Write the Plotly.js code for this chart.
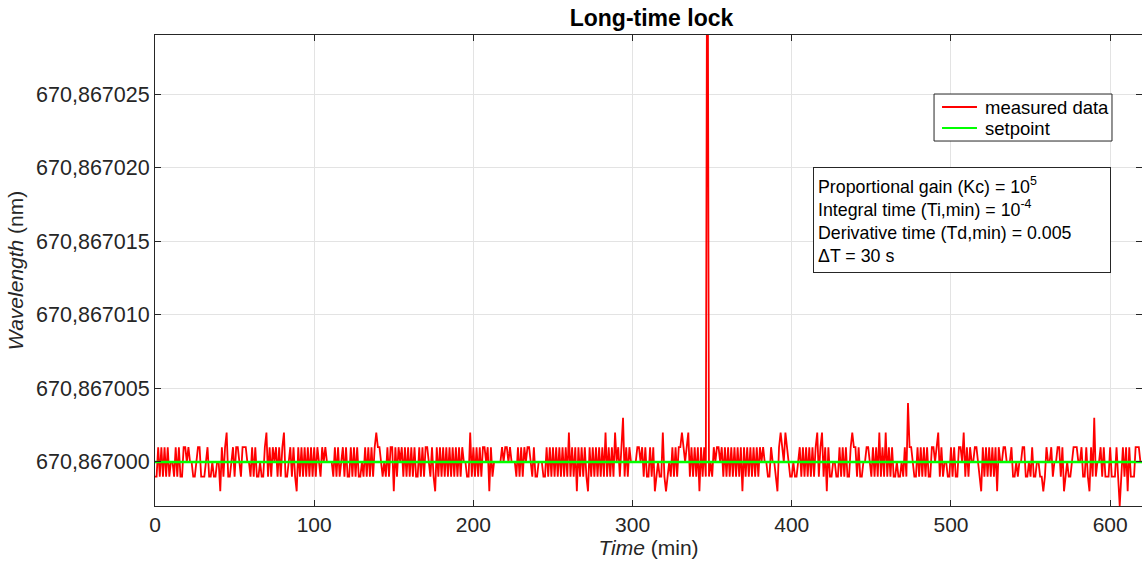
<!DOCTYPE html>
<html>
<head>
<meta charset="utf-8">
<script src="https://cdn.plot.ly/plotly-3.0.1.min.js"></script>
<style>
  html, body { margin: 0; padding: 0; background: #ffffff; }
  #chart { width: 1142px; height: 562px; }
</style>
</head>
<body>
<div id="chart"></div>
<script>
// Wavelength lock log: deviation from the setpoint, in units of 1e-6 nm,
// one reading per minute of elapsed time.
const setpointNm = 670.867000;
const deviationUnitNm = 1e-6;

const dev000to099 = [
  -1,-1,1,-1,1,-1,1,-1,1,-1,  0,0,-1,1,-1,1,-1,-1,1,1,
  0,1,0,0,-1,-1,0,1,1,-1,     -1,-1,0,1,-1,-1,0,-1,-1,0,
  0,-2,1,-1,1,2,-1,-1,0,1,    -1,1,1,0,-1,1,1,1,0,0,
  -1,1,-1,1,-1,-1,0,-1,-1,1,  2,-1,1,-1,1,0,1,-1,1,-1,
  1,2,-1,-1,0,1,-1,1,-1,-2,   1,-1,1,-1,1,-1,1,-1,1,-1
];
const dev100to199 = [
  1,-1,1,0,-1,1,0,1,0,0,      0,0,-1,1,-1,1,-1,0,1,-1,
  1,-1,-1,1,-1,1,-1,1,-1,-1,  0,-1,1,-1,1,-1,1,-1,1,2,
  1,1,0,-1,0,-1,1,-1,1,1,     -2,1,-1,1,0,1,-1,1,-1,1,
  -1,1,-1,1,-1,-1,1,-1,1,-1,  1,1,0,-1,1,-1,-2,1,-1,1,
  -1,1,-1,1,-1,1,-1,1,-1,1,   -1,1,-1,1,0,0,-1,-1,2,-1
];
const dev200to299 = [
  1,-1,1,-1,1,-1,1,1,0,1,     -2,1,-1,0,0,0,0,0,1,0,
  1,1,0,1,0,0,0,-1,1,-1,      1,-1,1,0,1,1,0,-1,1,-1,
  -1,0,0,0,-1,-1,1,-1,1,-1,   1,-1,1,-1,1,-1,1,-1,1,-1,
  2,-1,1,-1,1,-2,1,-1,1,-1,   1,-1,-2,1,-1,1,-1,1,-1,1,
  -1,1,-1,2,-1,1,-1,1,-1,2,   0,1,-1,1,3,-1,1,-1,1,0
];
const dev300to399 = [
  0,0,0,1,1,0,1,-1,1,-1,      -1,1,-1,1,-2,-1,0,-1,-1,2,
  -1,-2,-1,0,-1,1,-1,1,-1,1,  1,2,1,0,1,2,-1,1,-1,1,
  -1,1,-2,1,-1,1,-1,45,-1,0,  -1,1,0,1,1,0,1,-1,1,-1,
  1,-1,1,-1,1,-1,1,-1,1,-2,   1,-1,1,-1,1,-1,1,-1,1,-1,
  1,0,1,0,0,-1,-1,1,0,0,      -1,-2,1,2,1,0,2,1,0,-1
];
const dev400to499 = [
  -1,0,-1,-1,0,1,-1,1,-1,1,   -1,1,-1,1,-1,1,2,-1,1,2,
  -1,1,-2,1,-1,-1,0,0,-1,-1,  1,-1,1,-1,1,-1,-1,1,2,1,
  1,-1,1,-1,-1,0,0,1,1,0,     -1,1,-1,1,-1,2,-1,1,-1,2,
  -1,1,-1,1,-1,-1,0,-1,-1,0,  -1,1,-1,4,1,1,0,-1,-1,1,
  -1,1,-1,1,-1,1,-1,-1,1,1,   0,1,2,-1,1,-1,0,0,-1,-1
];
const dev500to620 = [
  1,-1,1,-1,-1,1,1,0,2,-1,    1,-1,1,0,0,1,1,0,-1,-2,
  1,-1,1,-1,1,-1,1,-1,1,-2,   1,0,0,1,1,0,0,0,1,-1,
  -1,0,-1,0,0,1,1,-1,-1,0,    -1,1,-1,-1,0,0,-1,-1,-2,-1,
  1,0,0,1,-1,0,0,1,1,-1,      1,-2,-1,0,-1,-1,0,1,1,1,
  0,0,1,-1,-1,1,-1,-2,1,-1,   3,-1,0,0,1,-1,1,-1,-1,-1,
  1,-1,-1,-1,1,-1,-3,-1,1,-1, 1,-2,1,-1,-1,-1,1,1,1,0,0
];

const samplePeriodMin = 1;
const setpointSpanMin = [0, 620];
const yTickOffsets = [0, 5, 10, 15, 20, 25];
const xTickVals = [0, 100, 200, 300, 400, 500, 600];
const seriesNames = ['measured data', 'setpoint'];
const seriesColors = ['#ff0000', '#00ff00'];

const deviations = [].concat(dev000to099, dev100to199, dev200to299,
                             dev300to399, dev400to499, dev500to620);
const timeMin = deviations.map((_, i) => i * samplePeriodMin);
const wavelengthNm = deviations.map(d => setpointNm + d * deviationUnitNm);

const FONT = '"Liberation Sans", Arial, Helvetica, sans-serif';
const AXIS_COLOR = '#262626';
const GRID_COLOR = '#e3e3e3';

const traces = [
  {
    x: timeMin,
    y: wavelengthNm,
    type: 'scatter',
    mode: 'lines',
    name: seriesNames[0],
    line: { color: seriesColors[0], width: 1.8 }
  },
  {
    x: setpointSpanMin,
    y: setpointSpanMin.map(() => setpointNm),
    type: 'scatter',
    mode: 'lines',
    name: seriesNames[1],
    line: { color: seriesColors[1], width: 2.5 }
  }
];

// Compact boxed legend in the upper right of the axes (paper coordinates).
const legendBox = { x0: 0.7893, x1: 0.9696, y0: 0.7749, y1: 0.8747 };
const legendRowsY = [0.8471, 0.8025];
const legendSample = { x0: 0.7974, x1: 0.8328, textX: 0.8389 };

const legendShapes = [
  {
    type: 'rect', xref: 'paper', yref: 'paper',
    x0: legendBox.x0, x1: legendBox.x1, y0: legendBox.y0, y1: legendBox.y1,
    line: { color: AXIS_COLOR, width: 1 }, fillcolor: '#ffffff', layer: 'above'
  }
].concat(seriesNames.map((_, i) => ({
  type: 'line', xref: 'paper', yref: 'paper',
  x0: legendSample.x0, x1: legendSample.x1, y0: legendRowsY[i], y1: legendRowsY[i],
  line: { color: seriesColors[i], width: 1.8 }, layer: 'above'
})));

const legendLabels = seriesNames.map((name, i) => ({
  xref: 'paper', yref: 'paper',
  x: legendSample.textX, xanchor: 'left',
  y: legendRowsY[i], yanchor: 'middle',
  showarrow: false,
  text: name,
  font: { family: FONT, size: 18.5, color: '#000000' }
}));

const layout = {
  width: 1142,
  height: 562,
  margin: { l: 155, r: 0, t: 35, b: 56 },
  paper_bgcolor: '#ffffff',
  plot_bgcolor: '#ffffff',
  separators: ',.',
  font: { family: FONT, color: AXIS_COLOR, size: 21 },
  showlegend: false,
  title: {
    text: '<b>Long-time lock</b>',
    font: { family: FONT, size: 23, color: '#000000' },
    x: 0.5705, xanchor: 'center',
    y: 0.968, yanchor: 'middle'
  },
  xaxis: {
    range: [0, 620],
    tickvals: xTickVals,
    ticks: 'inside', ticklen: 6, tickcolor: AXIS_COLOR,
    showline: true, linecolor: AXIS_COLOR, linewidth: 1, mirror: 'ticks',
    showgrid: true, gridcolor: GRID_COLOR, gridwidth: 1,
    zeroline: false,
    tickfont: { family: FONT, size: 21, color: AXIS_COLOR },
    title: { text: '<i>Time</i> (min)', font: { family: FONT, size: 21, color: AXIS_COLOR }, standoff: 4 }
  },
  yaxis: {
    range: [setpointNm - 3.0 * deviationUnitNm, setpointNm + 29.04 * deviationUnitNm],
    tickvals: yTickOffsets.map(k => setpointNm + k * deviationUnitNm),
    tickformat: '.6f',
    ticks: 'inside', ticklen: 6, tickcolor: AXIS_COLOR,
    showline: true, linecolor: AXIS_COLOR, linewidth: 1, mirror: 'ticks',
    showgrid: true, gridcolor: GRID_COLOR, gridwidth: 1,
    zeroline: false,
    tickfont: { family: FONT, size: 21.5, color: AXIS_COLOR },
    title: { text: '<i>Wavelength</i> (nm)', font: { family: FONT, size: 21, color: AXIS_COLOR }, standoff: 6 }
  },
  shapes: legendShapes,
  annotations: legendLabels.concat([
    {
      xref: 'paper', yref: 'paper',
      x: 0.6664, xanchor: 'left',
      y: 0.7204, yanchor: 'top',
      showarrow: false,
      align: 'left',
      valign: 'middle',
      width: 288,
      height: 96,
      borderpad: 4,
      bordercolor: AXIS_COLOR,
      borderwidth: 1,
      bgcolor: '#ffffff',
      font: { family: FONT, size: 17.8, color: '#000000' },
      text: 'Proportional gain (Kc) = 10<sup>5</sup><br>' +
            'Integral time (Ti,min) = 10<sup>-4</sup><br>' +
            'Derivative time (Td,min) = 0.005<br>' +
            'ΔT = 30 s'
    }
  ])
};

Plotly.newPlot('chart', traces, layout, { displayModeBar: false, staticPlot: true });
</script>
</body>
</html>
